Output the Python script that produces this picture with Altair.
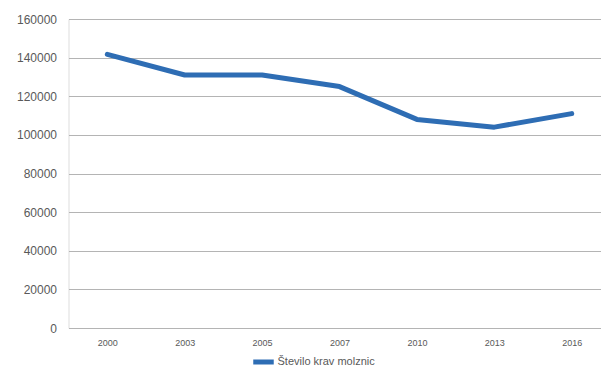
import altair as alt
import pandas as pd

# Number of dairy cows by year
years = ["2000", "2003", "2005", "2007", "2010", "2013", "2016"]
cows = [141700, 131000, 131000, 125000, 108000, 104000, 111000]
series_name = "Število krav molznic"
y_ticks = [0, 20000, 40000, 60000, 80000, 100000, 120000, 140000, 160000]

df = pd.DataFrame({"Leto": years, "Stevilo": cows, "Serija": [series_name] * len(years)})

label_font = "Liberation Sans"
text_color = "#595959"
line_color = "#2e6db4"

chart = (
    alt.Chart(df)
    .mark_line(strokeWidth=5, strokeCap="round", strokeJoin="round")
    .encode(
        x=alt.X(
            "Leto:O",
            sort=years,
            scale=alt.Scale(type="point", padding=0.44, align=0.57),
            axis=alt.Axis(
                title=None,
                labelAngle=0,
                ticks=False,
                domain=False,
                grid=False,
                labelFont=label_font,
                labelFontSize=9,
                labelColor=text_color,
                labelPadding=10,
            ),
        ),
        y=alt.Y(
            "Stevilo:Q",
            scale=alt.Scale(domain=[0, 160000], nice=False),
            axis=alt.Axis(
                title=None,
                values=y_ticks,
                format="d",
                ticks=False,
                domain=False,
                grid=True,
                gridColor="#b4b4b4",
                gridWidth=1,
                labelFont=label_font,
                labelFontSize=12,
                labelColor=text_color,
                labelPadding=12,
            ),
        ),
        color=alt.Color(
            "Serija:N",
            scale=alt.Scale(domain=[series_name], range=[line_color]),
            legend=alt.Legend(
                title=None,
                orient="none",
                legendX=182,
                legendY=330,
                symbolType="stroke",
                symbolStrokeWidth=5,
                symbolSize=420,
                labelFont=label_font,
                labelFontSize=11,
                labelColor=text_color,
                labelOffset=1,
            ),
        ),
    )
    .properties(width=532.5, height=309, autosize=alt.AutoSizeParams(type="none"), padding={"left": 68.5, "top": 19, "right": 0, "bottom": 44})
    .configure_view(stroke=None)
    .configure(background="white")
)

chart.save("out.html", embed_options={"renderer": "svg", "actions": False})
